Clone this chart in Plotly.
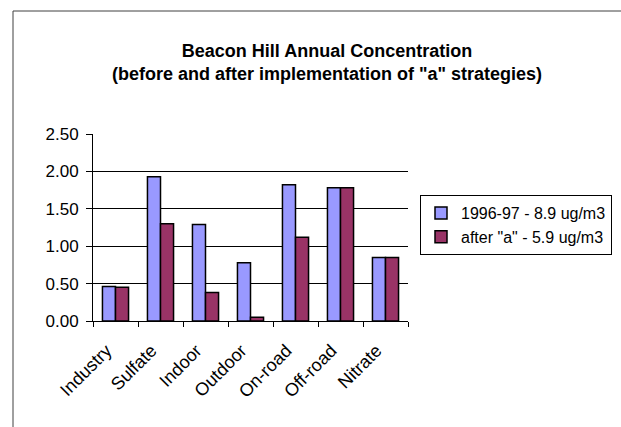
import plotly.graph_objects as go

categories = ["Industry", "Sulfate", "Indoor", "Outdoor", "On-road", "Off-road", "Nitrate"]
before_vals = [0.46, 1.93, 1.29, 0.78, 1.82, 1.78, 0.85]
after_vals = [0.45, 1.30, 0.38, 0.05, 1.12, 1.78, 0.85]
series_names = ["1996-97 - 8.9 ug/m3", "after \"a\" - 5.9 ug/m3"]
y_ticks = [0.0, 0.5, 1.0, 1.5, 2.0, 2.5]

W, H = 621, 427
L, R, T, B = 93, 408, 134, 321

FONT = "Liberation Sans, Arial, sans-serif"

fig = go.Figure()
fig.add_trace(go.Bar(x=categories, y=before_vals, name=series_names[0],
                     marker=dict(color="#9999FF", line=dict(color="black", width=1.5))))
fig.add_trace(go.Bar(x=categories, y=after_vals, name=series_names[1],
                     marker=dict(color="#993366", line=dict(color="black", width=1.5))))

def px_x(p):
    return (p - L) / (R - L)

def px_y(p):
    return (B - p) / (B - T)

fig.update_layout(
    width=W, height=H,
    margin=dict(l=L, r=W - R, t=T, b=H - B, autoexpand=False),
    paper_bgcolor="white", plot_bgcolor="white",
    font=dict(family=FONT, size=17, color="black"),
    barmode="group", bargap=0.42, bargroupgap=0,
    title=dict(text="<b>Beacon Hill Annual Concentration<br>(before and after implementation of \"a\" strategies)</b>",
               font=dict(family=FONT, size=18, color="black"),
               xref="paper", x=px_x(327), xanchor="center",
               yref="container", y=1 - 57 / H, yanchor="middle"),
    showlegend=True,
    legend=dict(x=px_x(420), y=px_y(195), xanchor="left", yanchor="top",
                bordercolor="black", borderwidth=1, bgcolor="white",
                font=dict(family=FONT, size=16), itemwidth=30,
                tracegroupgap=0),
    xaxis=dict(showline=True, linecolor="black", linewidth=1,
               ticks="outside", ticklen=5, tickcolor="black", tickson="boundaries",
               tickangle=-45, showgrid=False, tickfont=dict(size=18),
               ticklabelstandoff=11, ticklabelshift=-9),
    yaxis=dict(range=[0, 2.5], tickvals=y_ticks, tickformat=".2f",
               showline=True, linecolor="black", linewidth=1,
               ticks="outside", ticklen=6, tickcolor="black",
               showgrid=True, gridcolor="black", gridwidth=1,
               zeroline=False, tickfont=dict(size=17), ticklabelstandoff=4),
    shapes=[dict(type="rect", xref="paper", yref="paper",
                 x0=px_x(13), x1=px_x(660), y0=px_y(460), y1=px_y(11),
                 line=dict(color="#404040", width=1), layer="below")],
)

fig.write_html("out.html")
